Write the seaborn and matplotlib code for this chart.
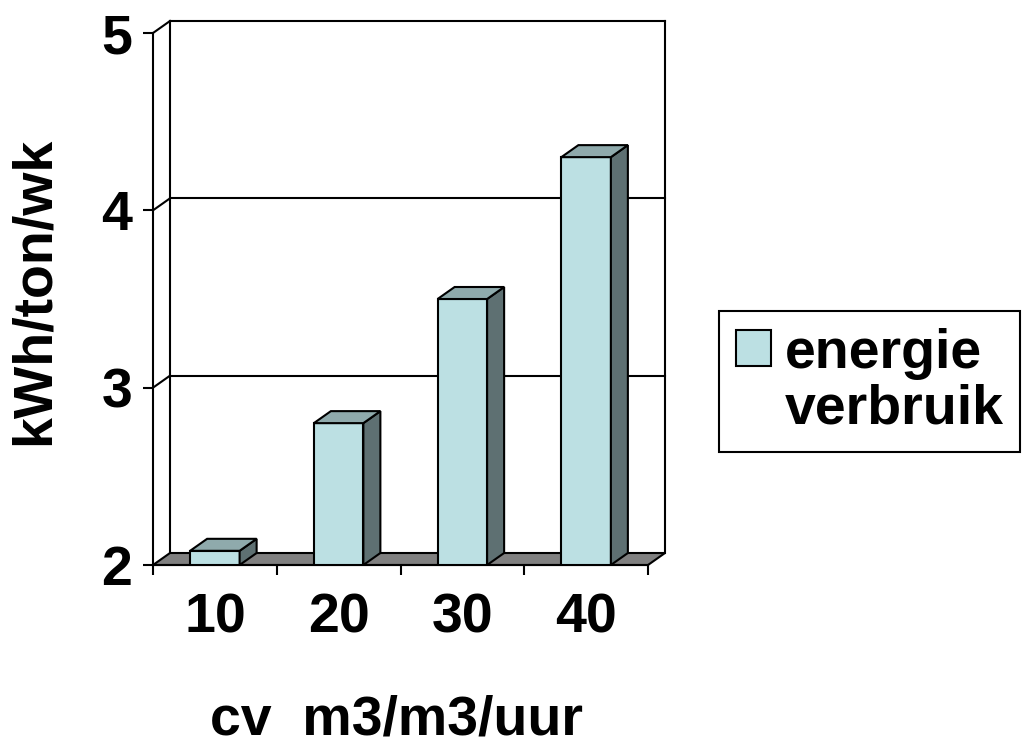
import matplotlib
matplotlib.use("Agg")
import matplotlib.pyplot as plt
import seaborn as sns
import pandas as pd
from matplotlib.patches import Polygon, Patch
from matplotlib.lines import Line2D

# ---- data ----
categories = ["10", "20", "30", "40"]
energie_verbruik = [2.08, 2.8, 3.5, 4.3]
y_ticks = [2, 3, 4, 5]
x_label = "cv  m3/m3/uur"
y_label = "kWh/ton/wk"
legend_lines = ["energie", "verbruik"]

sns.set_style("white")
plt.rcParams["font.family"] = ["Liberation Sans", "DejaVu Sans"]
plt.rcParams["font.weight"] = "bold"
plt.rcParams["text.color"] = "black"
plt.rcParams["axes.labelcolor"] = "black"
plt.rcParams["xtick.color"] = "black"
plt.rcParams["ytick.color"] = "black"

FRONT = "#BCE0E3"
TOP = "#8FAAAC"
SIDE = "#5E7072"
FLOOR = "#808080"
LW = 1.5
FS = 40

fig = plt.figure(figsize=(10.23, 7.47), dpi=100)
ax = fig.add_axes([153 / 1023, 1 - 565 / 747, (648 - 153) / 1023, (565 - 33) / 747])

df = pd.DataFrame({"cv": categories, "val": energie_verbruik})
sns.barplot(data=df, x="cv", y="val", color=FRONT, width=0.40, edgecolor="black",
            linewidth=LW, saturation=1, ax=ax, zorder=5)

ymin, ymax = y_ticks[0], y_ticks[-1]
n = len(categories)
ax.set_xlim(-0.5, n - 0.5)
ax.set_ylim(ymin, ymax)

# depth offset in data units (17 px right, 12 px up)
bb = ax.get_window_extent()
dx = 17 / bb.width * n
dy = 12 / bb.height * (ymax - ymin)

x0, x1 = -0.5, n - 0.5
kw = dict(color="black", lw=LW, clip_on=False, zorder=1, solid_capstyle="projecting")
# back wall
ax.add_line(Line2D([x0 + dx, x0 + dx], [ymin + dy, ymax + dy], **kw))
ax.add_line(Line2D([x1 + dx, x1 + dx], [ymin + dy, ymax + dy], **kw))
for v in y_ticks[1:]:
    ax.add_line(Line2D([x0 + dx, x1 + dx], [v + dy, v + dy], **kw))
    ax.add_line(Line2D([x0, x0 + dx], [v, v + dy], **kw))
# floor
floor = Polygon([(x0, ymin), (x1, ymin), (x1 + dx, ymin + dy), (x0 + dx, ymin + dy)],
                closed=True, facecolor=FLOOR, edgecolor="black", lw=LW, clip_on=False, zorder=2)
ax.add_patch(floor)

# 3D sides and tops of bars
for p in list(ax.patches):
    if p is floor:
        continue
    bx0 = p.get_x()
    bx1 = bx0 + p.get_width()
    top = p.get_y() + p.get_height()
    bot = max(p.get_y(), ymin)
    side = Polygon([(bx1, bot), (bx1, top), (bx1 + dx, top + dy), (bx1 + dx, bot + dy)],
                   closed=True, facecolor=SIDE, edgecolor="black", lw=LW, clip_on=False, zorder=6)
    topp = Polygon([(bx0, top), (bx1, top), (bx1 + dx, top + dy), (bx0 + dx, top + dy)],
                   closed=True, facecolor=TOP, edgecolor="black", lw=LW, clip_on=False, zorder=6)
    ax.add_patch(side)
    ax.add_patch(topp)
    p.set_clip_on(True)

# axes / ticks
sns.despine(ax=ax, top=True, right=True)
for s in ["left", "bottom"]:
    ax.spines[s].set_linewidth(LW)
    ax.spines[s].set_color("black")
    ax.spines[s].set_zorder(7)
ax.set_yticks(y_ticks)
ax.set_yticklabels([str(t) for t in y_ticks])
ax.set_xticks([i - 0.5 for i in range(n + 1)])
ax.set_xticklabels([""] * (n + 1))
ax.set_xticks(range(n), minor=True)
ax.set_xticklabels(categories, minor=True)
ax.tick_params(axis="y", which="major", direction="out", length=7, width=LW,
               labelsize=FS, pad=8, left=True, color="black", labelcolor="black")
ax.tick_params(axis="x", which="major", direction="out", length=7.5, width=LW,
               bottom=True, color="black")
ax.tick_params(axis="x", which="minor", length=0, labelsize=FS, pad=20, labelcolor="black")
for lab in ax.get_yticklabels() + ax.get_xticklabels(minor=True):
    lab.set_fontweight("bold")

ax.set_xlabel(x_label, fontsize=FS, fontweight="bold", color="black")
ax.set_ylabel(y_label, fontsize=FS, fontweight="bold", color="black")
ax.xaxis.set_label_coords((397 - 153) / 495, -(720 - 565) / 532)
ax.yaxis.set_label_coords(-(153 - 35) / 495, (565 - 291) / 532)
ax.xaxis.label.set_va("center")
ax.yaxis.label.set_va("center")
ax.set_facecolor("none")

# legend
handles = [Patch(facecolor=FRONT, edgecolor="black", lw=LW), Patch(visible=False)]
leg = fig.legend(handles, legend_lines, loc="upper left",
                 bbox_to_anchor=(719 / 1023, 1 - 311 / 747),
                 prop={"size": FS, "weight": "bold"},
                 handlelength=0.63, handleheight=0.63, handletextpad=0.25,
                 borderpad=0.3, labelspacing=0.06, borderaxespad=0,
                 fancybox=False, frameon=True, edgecolor="black", framealpha=1)
leg.get_frame().set_linewidth(LW)
for t in leg.get_texts():
    t.set_color("black")

fig.savefig("out.png", dpi=100)
